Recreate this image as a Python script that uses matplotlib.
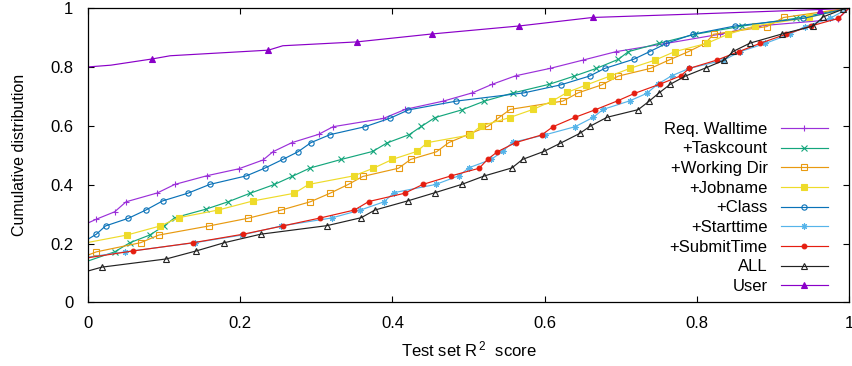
import matplotlib
matplotlib.use("Agg")
import matplotlib.pyplot as plt

plt.rcParams["font.family"] = ["Liberation Sans", "DejaVu Sans"]
plt.rcParams["font.size"] = 12

walltime_x = [0.0, 0.011, 0.035, 0.050, 0.091, 0.114, 0.157, 0.198, 0.230, 0.243, 0.268, 0.303, 0.322, 0.388,
              0.417, 0.467, 0.505, 0.531, 0.562, 0.607, 0.650, 0.694, 0.760, 0.830, 0.880, 0.985, 1.0]
walltime_y = [0.270, 0.283, 0.308, 0.342, 0.372, 0.401, 0.431, 0.454, 0.484, 0.512, 0.543, 0.571, 0.597, 0.625,
              0.656, 0.684, 0.712, 0.741, 0.770, 0.795, 0.823, 0.852, 0.880, 0.911, 0.939, 0.962, 1.0]

taskcount_x = [0.0, 0.035, 0.055, 0.081, 0.100, 0.114, 0.155, 0.184, 0.213, 0.245, 0.268, 0.292, 0.333, 0.374,
               0.393, 0.422, 0.438, 0.456, 0.491, 0.521, 0.559, 0.606, 0.639, 0.668, 0.697, 0.710, 0.750, 0.798,
               0.860, 0.930, 1.0]
taskcount_y = [0.141, 0.172, 0.203, 0.229, 0.260, 0.288, 0.317, 0.342, 0.371, 0.401, 0.428, 0.457, 0.486, 0.513,
               0.542, 0.570, 0.598, 0.628, 0.654, 0.684, 0.712, 0.741, 0.769, 0.795, 0.826, 0.852, 0.880, 0.911,
               0.939, 0.965, 1.0]

workdir_x = [0.0, 0.011, 0.069, 0.093, 0.159, 0.210, 0.254, 0.292, 0.318, 0.342, 0.361, 0.408, 0.424, 0.458,
             0.474, 0.500, 0.526, 0.540, 0.555, 0.624, 0.644, 0.675, 0.697, 0.739, 0.763, 0.789, 0.811, 0.822,
             0.892, 0.914, 1.0]
workdir_y = [0.161, 0.172, 0.203, 0.229, 0.260, 0.286, 0.314, 0.342, 0.371, 0.401, 0.428, 0.456, 0.486, 0.512,
             0.543, 0.571, 0.599, 0.628, 0.656, 0.684, 0.712, 0.739, 0.769, 0.795, 0.823, 0.852, 0.880, 0.911,
             0.937, 0.968, 1.0]

jobname_x = [0.0, 0.051, 0.095, 0.119, 0.171, 0.217, 0.271, 0.290, 0.349, 0.375, 0.400, 0.432, 0.446, 0.502,
             0.516, 0.554, 0.585, 0.610, 0.630, 0.655, 0.686, 0.712, 0.745, 0.771, 0.813, 0.841, 0.876, 0.947, 1.0]
jobname_y = [0.204, 0.229, 0.260, 0.288, 0.314, 0.345, 0.371, 0.401, 0.430, 0.456, 0.486, 0.513, 0.543, 0.569,
             0.599, 0.628, 0.656, 0.684, 0.714, 0.739, 0.769, 0.795, 0.823, 0.852, 0.880, 0.911, 0.939, 0.968, 1.0]

class_x = [0.0, 0.011, 0.023, 0.053, 0.076, 0.098, 0.131, 0.160, 0.208, 0.232, 0.256, 0.276, 0.293, 0.318,
           0.364, 0.397, 0.421, 0.484, 0.573, 0.621, 0.659, 0.679, 0.717, 0.738, 0.760, 0.795, 0.850, 0.940, 1.0]
class_y = [0.215, 0.232, 0.260, 0.286, 0.314, 0.345, 0.371, 0.401, 0.430, 0.456, 0.486, 0.512, 0.543, 0.570,
           0.597, 0.626, 0.654, 0.684, 0.712, 0.739, 0.769, 0.795, 0.826, 0.852, 0.880, 0.911, 0.939, 0.965, 1.0]

starttime_x = [0.0, 0.049, 0.140, 0.202, 0.254, 0.320, 0.358, 0.389, 0.402, 0.457, 0.487, 0.501, 0.530, 0.545,
               0.558, 0.600, 0.640, 0.664, 0.677, 0.712, 0.734, 0.749, 0.767, 0.790, 0.835, 0.857, 0.890, 0.922,
               0.942, 0.975, 1.0]
starttime_y = [0.154, 0.172, 0.203, 0.229, 0.260, 0.287, 0.314, 0.342, 0.373, 0.401, 0.430, 0.458, 0.486, 0.514,
               0.544, 0.569, 0.597, 0.629, 0.656, 0.685, 0.710, 0.742, 0.770, 0.795, 0.823, 0.852, 0.880, 0.911,
               0.937, 0.965, 1.0]

submit_x = [0.0, 0.059, 0.138, 0.204, 0.256, 0.305, 0.350, 0.369, 0.416, 0.440, 0.477, 0.514, 0.525, 0.538,
            0.562, 0.596, 0.611, 0.640, 0.666, 0.696, 0.718, 0.752, 0.779, 0.790, 0.826, 0.855, 0.883, 0.917,
            0.950, 0.986, 1.0]
submit_y = [0.152, 0.175, 0.203, 0.232, 0.260, 0.287, 0.314, 0.343, 0.371, 0.401, 0.430, 0.456, 0.486, 0.512,
            0.543, 0.569, 0.597, 0.629, 0.654, 0.685, 0.710, 0.742, 0.770, 0.795, 0.823, 0.852, 0.880, 0.911,
            0.939, 0.965, 1.0]

all_x = [0.0, 0.018, 0.103, 0.142, 0.179, 0.227, 0.314, 0.359, 0.377, 0.420, 0.456, 0.491, 0.521, 0.557, 0.571,
         0.599, 0.620, 0.646, 0.660, 0.682, 0.723, 0.737, 0.750, 0.765, 0.785, 0.812, 0.836, 0.848, 0.870, 0.912,
         0.953, 0.966, 0.992, 1.0]
all_y = [0.107, 0.120, 0.148, 0.175, 0.203, 0.232, 0.261, 0.288, 0.314, 0.345, 0.373, 0.401, 0.430, 0.457, 0.486,
         0.513, 0.540, 0.574, 0.599, 0.629, 0.655, 0.683, 0.711, 0.741, 0.769, 0.797, 0.823, 0.853, 0.881, 0.912,
         0.939, 0.970, 0.996, 1.0]

user_x = [0.0, 0.030, 0.084, 0.108, 0.237, 0.256, 0.353, 0.452, 0.566, 0.663, 0.800, 0.962, 1.0]
user_y = [0.800, 0.806, 0.827, 0.838, 0.857, 0.872, 0.885, 0.912, 0.939, 0.968, 0.980, 0.995, 1.0]
user_marks = [2, 4, 6, 7, 8, 9, 11]

tick_vals = [0, 0.2, 0.4, 0.6, 0.8, 1]
tick_text = ["0", "0.2", "0.4", "0.6", "0.8", "1"]

series = [
    ("Req. Walltime", walltime_x, walltime_y, "#9b30d9", "+", "#9b30d9"),
    ("+Taskcount", taskcount_x, taskcount_y, "#14a67c", "x", "#14a67c"),
    ("+Working Dir", workdir_x, workdir_y, "#e89a10", "s", "none"),
    ("+Jobname", jobname_x, jobname_y, "#eedb2a", "s", "#eedb2a"),
    ("+Class", class_x, class_y, "#0a72b8", "o", "none"),
    ("+Starttime", starttime_x, starttime_y, "#56b4e9", (8, 2, 0), "#56b4e9"),
    ("+SubmitTime", submit_x, submit_y, "#e51e10", "o", "#e51e10"),
    ("ALL", all_x, all_y, "#222222", "^", "none"),
    ("User", user_x, user_y, "#8a00c8", "^", "#8a00c8"),
]

fig = plt.figure(figsize=(8.52, 3.66), dpi=100)
ax = fig.add_axes([0.1033, 0.1735, 0.8932, 0.8045])

for name, xs, ys, col, mk, face in series:
    every = user_marks if name == "User" else slice(1, -1)
    if mk == "o":
        ms = 3.4 if face != "none" else 3.8
    else:
        ms = 4.4
    ax.plot(xs, ys, color=col, lw=0.85, marker=mk, markersize=ms, markevery=every,
            markerfacecolor=face, markeredgecolor=col, markeredgewidth=0.8, label=name)

ax.set_xlim(0, 1)
ax.set_ylim(0, 1)
ax.set_xticks(tick_vals)
ax.set_xticklabels(tick_text)
ax.set_yticks(tick_vals)
ax.set_yticklabels(tick_text)
ax.tick_params(axis="both", direction="in", length=4, width=0.8, top=True, right=True, labelsize=12)
ax.tick_params(axis="x", pad=10)
ax.tick_params(axis="y", pad=10.5)
for s in ax.spines.values():
    s.set_linewidth(0.9)

ax.set_xlabel("Test set $\\mathregular{R^{\\,2}}$  score", fontsize=12, labelpad=6)
ax.set_ylabel("Cumulative distribution", fontsize=11.5, labelpad=17)

leg = ax.legend(loc="center right", bbox_to_anchor=(0.972, 0.321), frameon=False, markerfirst=False,
                fontsize=12, handlelength=2.8, handletextpad=0.8, labelspacing=0.28,
                borderpad=0, borderaxespad=0)

fig.savefig("out.png", dpi=100)
